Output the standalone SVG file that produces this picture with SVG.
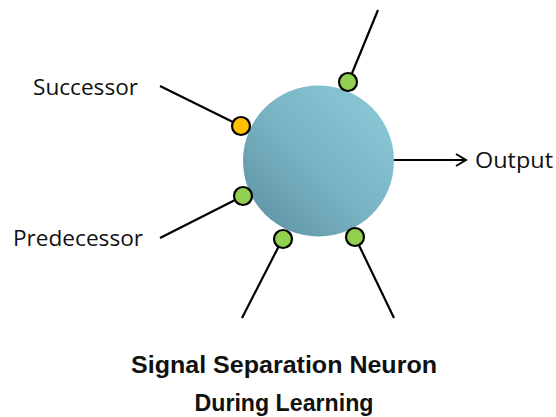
<svg xmlns="http://www.w3.org/2000/svg" width="556" height="417" viewBox="0 0 556 417">
<style>
.lbl{font-family:"Open Sans","Liberation Sans",Arial,sans-serif;font-size:21px;fill:#111}
.ttl{font-family:"Liberation Sans",Arial,sans-serif;font-size:23.5px;font-weight:bold;fill:#111}
.ln{stroke:#000;stroke-width:2.2;fill:none}
.g{fill:#92d050;stroke:#000;stroke-width:2.2}
.o{fill:#ffc000;stroke:#000;stroke-width:2.2}
</style>
<defs>
<linearGradient id="body" x1="1" y1="0" x2="0" y2="1">
<stop offset="0" stop-color="#8ccbdb"/>
<stop offset="0.5" stop-color="#7ab4c4"/>
<stop offset="1" stop-color="#5a8fa0"/>
</linearGradient>
<marker id="arr" markerWidth="14" markerHeight="14" refX="12" refY="7" orient="auto" markerUnits="userSpaceOnUse">
<path d="M2,1 L12,7 L2,13" fill="none" stroke="#000" stroke-width="2"/>
</marker>
</defs>
<g id="connectors">
<line class="ln" x1="378" y1="10" x2="348" y2="83"/>
<line class="ln" x1="160" y1="86" x2="241" y2="126"/>
<line class="ln" x1="160" y1="238" x2="243" y2="196"/>
<line class="ln" x1="242" y1="318" x2="283" y2="238"/>
<line class="ln" x1="394" y1="318" x2="355" y2="237"/>
<line class="ln" x1="393" y1="160" x2="466" y2="160" marker-end="url(#arr)"/>
</g>
<g id="neuron">
<circle cx="318.5" cy="161" r="75.5" fill="url(#body)"/>
</g>
<g id="dot-top"><circle class="g" cx="348" cy="82" r="9"/></g>
<g id="dot-successor"><circle class="o" cx="241" cy="126" r="9"/></g>
<g id="dot-predecessor"><circle class="g" cx="243" cy="196" r="9"/></g>
<g id="dot-bottom-left"><circle class="g" cx="283" cy="239" r="9"/></g>
<g id="dot-bottom-right"><circle class="g" cx="355" cy="237" r="9"/></g>
<g id="labels">
<text class="lbl" x="33" y="95" textLength="105" lengthAdjust="spacingAndGlyphs">Successor</text>
<text class="lbl" x="13" y="246" textLength="130" lengthAdjust="spacingAndGlyphs">Predecessor</text>
<text class="lbl" x="475" y="168" textLength="78" lengthAdjust="spacingAndGlyphs">Output</text>
</g>
<g id="title">
<text class="ttl" x="284" y="373" text-anchor="middle" textLength="306" lengthAdjust="spacingAndGlyphs">Signal Separation Neuron</text>
<text class="ttl" x="284" y="411" text-anchor="middle" textLength="179" lengthAdjust="spacingAndGlyphs">During Learning</text>
</g>
</svg>
